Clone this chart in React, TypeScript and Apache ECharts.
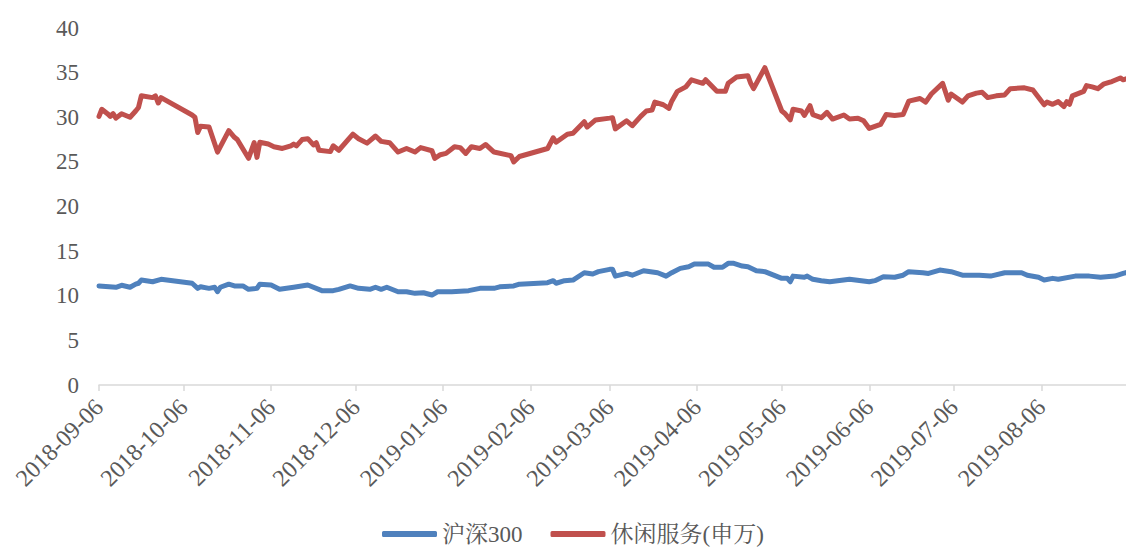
import React, { useEffect, useRef } from "react";
import * as echarts from "echarts";

const seriesNames = ["沪深300", "休闲服务(申万)"];
const seriesColors = ["#4F81BD", "#C0504D"];

const monthTicks = [
  "2018-09-06", "2018-10-06", "2018-11-06", "2018-12-06", "2019-01-06", "2019-02-06",
  "2019-03-06", "2019-04-06", "2019-05-06", "2019-06-06", "2019-07-06", "2019-08-06",
];

const hs300Dates = [
  "2018-09-06", "2018-09-12", "2018-09-14", "2018-09-17", "2018-09-19", "2018-09-20", "2018-09-21", "2018-09-25", "2018-09-28",
  "2018-10-09", "2018-10-11", "2018-10-12", "2018-10-15", "2018-10-17", "2018-10-18", "2018-10-19", "2018-10-22", "2018-10-24", "2018-10-27", "2018-10-29",
  "2018-11-01", "2018-11-02", "2018-11-06", "2018-11-09", "2018-11-14", "2018-11-19", "2018-11-24", "2018-11-28", "2018-11-30",
  "2018-12-04", "2018-12-07", "2018-12-11", "2018-12-13", "2018-12-15", "2018-12-17", "2018-12-21", "2018-12-24", "2018-12-27", "2018-12-30",
  "2019-01-02", "2019-01-04", "2019-01-09", "2019-01-15", "2019-01-19", "2019-01-24", "2019-01-26", "2019-01-31",
  "2019-02-02", "2019-02-12", "2019-02-14", "2019-02-15", "2019-02-18", "2019-02-21", "2019-02-25", "2019-02-28",
  "2019-03-02", "2019-03-06", "2019-03-07", "2019-03-08", "2019-03-12", "2019-03-14", "2019-03-18", "2019-03-23", "2019-03-26", "2019-03-28", "2019-03-31",
  "2019-04-03", "2019-04-05", "2019-04-10", "2019-04-12", "2019-04-15", "2019-04-17", "2019-04-19", "2019-04-22", "2019-04-24", "2019-04-27", "2019-04-30",
  "2019-05-06", "2019-05-08", "2019-05-09", "2019-05-10", "2019-05-14", "2019-05-15", "2019-05-17", "2019-05-20", "2019-05-23", "2019-05-30",
  "2019-06-06", "2019-06-08", "2019-06-11", "2019-06-15", "2019-06-18", "2019-06-20", "2019-06-25", "2019-06-27",
  "2019-07-01", "2019-07-05", "2019-07-09", "2019-07-15", "2019-07-19", "2019-07-24", "2019-07-30",
  "2019-08-01", "2019-08-05", "2019-08-07", "2019-08-10", "2019-08-12", "2019-08-18", "2019-08-23", "2019-08-27",
  "2019-09-01", "2019-09-04", "2019-09-05",
];
const hs300Values = [
  11.1, 10.95, 11.17, 10.95, 11.3, 11.4, 11.76, 11.57, 11.84,
  11.4, 10.83, 11.0, 10.83, 10.95, 10.45, 10.95, 11.3, 11.1, 11.1, 10.72,
  10.83, 11.3, 11.2, 10.72, 10.95, 11.2, 10.57, 10.57, 10.72,
  11.1, 10.83, 10.72, 10.95, 10.72, 10.95, 10.45, 10.45, 10.27, 10.34,
  10.08, 10.45, 10.45, 10.57, 10.83, 10.83, 11.0, 11.1,
  11.3, 11.46, 11.69, 11.4, 11.69, 11.76, 12.58, 12.44,
  12.7, 12.96, 12.96, 12.2, 12.5, 12.3, 12.8, 12.58, 12.2, 12.58, 13.07,
  13.25, 13.55, 13.55, 13.19, 13.19, 13.63, 13.63, 13.33, 13.25, 12.8, 12.7,
  11.95, 11.95, 11.57, 12.2, 12.07, 12.2, 11.84, 11.69, 11.57, 11.84,
  11.57, 11.69, 12.13, 12.07, 12.3, 12.7, 12.58, 12.5,
  12.88, 12.7, 12.3, 12.3, 12.2, 12.58, 12.58,
  12.3, 12.07, 11.76, 11.95, 11.84, 12.2, 12.2, 12.07,
  12.2, 12.5, 12.6,
];

const leisureDates = [
  "2018-09-06", "2018-09-07", "2018-09-09", "2018-09-10", "2018-09-11", "2018-09-12", "2018-09-14", "2018-09-17", "2018-09-19", "2018-09-20", "2018-09-21", "2018-09-25", "2018-09-26", "2018-09-27", "2018-09-28",
  "2018-10-09", "2018-10-10", "2018-10-11", "2018-10-12", "2018-10-15", "2018-10-18", "2018-10-22", "2018-10-24", "2018-10-25", "2018-10-29", "2018-10-31",
  "2018-11-01", "2018-11-02", "2018-11-05", "2018-11-07", "2018-11-10", "2018-11-13", "2018-11-14", "2018-11-15", "2018-11-17", "2018-11-19", "2018-11-21", "2018-11-22", "2018-11-23", "2018-11-27", "2018-11-28", "2018-11-30",
  "2018-12-05", "2018-12-07", "2018-12-10", "2018-12-13", "2018-12-15", "2018-12-18", "2018-12-21", "2018-12-24", "2018-12-27", "2018-12-29",
  "2019-01-02", "2019-01-03", "2019-01-05", "2019-01-07", "2019-01-10", "2019-01-12", "2019-01-14", "2019-01-16", "2019-01-19", "2019-01-21", "2019-01-24", "2019-01-30", "2019-01-31",
  "2019-02-02", "2019-02-12", "2019-02-14", "2019-02-15", "2019-02-19", "2019-02-21", "2019-02-25", "2019-02-26",
  "2019-03-01", "2019-03-06", "2019-03-07", "2019-03-08", "2019-03-12", "2019-03-14", "2019-03-17", "2019-03-19", "2019-03-21", "2019-03-22", "2019-03-25", "2019-03-27", "2019-03-28", "2019-03-30",
  "2019-04-02", "2019-04-04", "2019-04-08", "2019-04-09", "2019-04-13", "2019-04-16", "2019-04-17", "2019-04-20", "2019-04-24", "2019-04-25", "2019-04-26", "2019-04-30",
  "2019-05-06", "2019-05-07", "2019-05-09", "2019-05-10", "2019-05-13", "2019-05-14", "2019-05-16", "2019-05-17", "2019-05-20", "2019-05-22", "2019-05-24", "2019-05-28", "2019-05-30",
  "2019-06-02", "2019-06-04", "2019-06-06", "2019-06-10", "2019-06-12", "2019-06-15", "2019-06-18", "2019-06-20", "2019-06-24", "2019-06-26", "2019-06-28",
  "2019-07-02", "2019-07-04", "2019-07-05", "2019-07-09", "2019-07-11", "2019-07-14", "2019-07-16", "2019-07-18", "2019-07-21", "2019-07-24", "2019-07-26", "2019-07-31",
  "2019-08-03", "2019-08-07", "2019-08-08", "2019-08-10", "2019-08-12", "2019-08-14", "2019-08-15", "2019-08-16", "2019-08-17", "2019-08-21", "2019-08-22", "2019-08-24", "2019-08-26", "2019-08-28", "2019-08-30", "2019-08-31",
  "2019-09-03", "2019-09-04", "2019-09-05",
];
const leisureValues = [
  30.1, 30.9, 30.4, 30.1, 30.4, 29.9, 30.4, 30.0, 30.7, 31.1, 32.4, 32.2, 32.4, 31.6, 32.2,
  30.25, 30.0, 28.3, 29.0, 28.9, 26.1, 28.5, 27.75, 27.5, 25.4, 27.15,
  25.5, 27.2, 27.0, 26.7, 26.5, 26.8, 27.0, 26.8, 27.5, 27.6, 26.9, 27.15, 26.3, 26.15, 26.8, 26.3,
  28.1, 27.6, 27.1, 27.9, 27.3, 27.15, 26.1, 26.5, 26.1, 26.6,
  26.25, 25.4, 25.8, 25.95, 26.7, 26.6, 25.95, 26.7, 26.5, 26.95, 26.1, 25.7, 25.0,
  25.6, 26.5, 27.7, 27.2, 28.1, 28.2, 29.5, 28.9,
  29.7, 29.9, 29.95, 28.7, 29.6, 29.05, 30.1, 30.7, 30.8, 31.7, 31.4, 31.0, 31.8, 32.9,
  33.4, 34.2, 33.8, 34.2, 32.9, 32.9, 33.8, 34.5, 34.65, 33.8, 33.2, 35.55,
  30.7, 30.45, 29.7, 30.9, 30.7, 30.2, 31.3, 30.3, 29.95, 30.55, 29.8, 30.25, 29.8,
  29.9, 29.6, 28.75, 29.2, 30.3, 30.2, 30.3, 31.8, 32.1, 31.7, 32.6,
  33.8, 31.9, 32.6, 31.7, 32.4, 32.7, 32.8, 32.2, 32.4, 32.5, 33.2, 33.3,
  33.05, 31.4, 31.7, 31.45, 31.75, 31.2, 31.75, 31.45, 32.4, 32.9, 33.55, 33.4, 33.2, 33.7, 33.9, 34.0,
  34.4, 34.2, 34.3,
];

const xMin = "2018-09-06";
const xMax = "2019-09-05";

const FONT = "'Liberation Serif', 'Noto Serif CJK SC', 'Noto Sans CJK SC', serif";
const TEXT_COLOR = "#595959";

function pad(n: number) {
  return n < 10 ? "0" + n : "" + n;
}
function ts(d: string) {
  return Date.parse(d + "T00:00:00Z");
}
function fmt(v: number) {
  const d = new Date(v);
  return d.getUTCFullYear() + "-" + pad(d.getUTCMonth() + 1) + "-" + pad(d.getUTCDate());
}

export default function App() {
  const ref = useRef<HTMLDivElement>(null);

  useEffect(() => {
    if (!ref.current) return;
    const chart = echarts.init(ref.current, null, { renderer: "svg" });
    const zip = (ds: string[], vs: number[]) => ds.map((d, i) => [ts(d), vs[i]]);
    const tickVals = monthTicks.map(ts);
    chart.setOption({
      animation: false,
      backgroundColor: "#ffffff",
      textStyle: { fontFamily: FONT },
      grid: { left: 99, right: 0, top: 28, bottom: 165, containLabel: false },
      legend: {
        data: seriesNames,
        left: 377,
        top: 520,
        padding: [2, 5, 2, 5],
        icon: "roundRect",
        itemWidth: 55,
        itemHeight: 6,
        itemGap: 28,
        textStyle: { fontFamily: FONT, fontSize: 23, lineHeight: 24, color: TEXT_COLOR },
      },
      xAxis: {
        type: "value",
        min: ts(xMin),
        max: ts(xMax),
        splitLine: { show: false },
        axisLine: { show: true, lineStyle: { color: "#d9d9d9", width: 1.5 } },
        axisTick: {
          show: true,
          customValues: tickVals,
          length: 6,
          lineStyle: { color: "#d9d9d9", width: 1.5 },
        },
        axisLabel: {
          customValues: tickVals,
          rotate: 45,
          margin: 18,
          fontSize: 24,
          fontFamily: FONT,
          color: TEXT_COLOR,
          formatter: (v: number) => fmt(v),
        },
      },
      yAxis: {
        type: "value",
        min: 0,
        max: 40,
        interval: 5,
        splitLine: { show: false },
        axisLine: { show: false },
        axisTick: { show: false },
        axisLabel: { fontSize: 23, fontFamily: FONT, color: TEXT_COLOR, margin: 20 },
      },
      series: [
        {
          name: seriesNames[0],
          type: "line",
          data: zip(hs300Dates, hs300Values),
          showSymbol: false,
          symbol: "none",
          lineStyle: { width: 5, color: seriesColors[0], cap: "round", join: "round" },
          itemStyle: { color: seriesColors[0] },
        },
        {
          name: seriesNames[1],
          type: "line",
          data: zip(leisureDates, leisureValues),
          showSymbol: false,
          symbol: "none",
          lineStyle: { width: 5, color: seriesColors[1], cap: "round", join: "round" },
          itemStyle: { color: seriesColors[1] },
        },
      ],
    });
    return () => chart.dispose();
  }, []);

  return (
    <div
      ref={ref}
      style={{ position: "absolute", left: 0, top: 0, width: 1126, height: 550 }}
    />
  );
}
